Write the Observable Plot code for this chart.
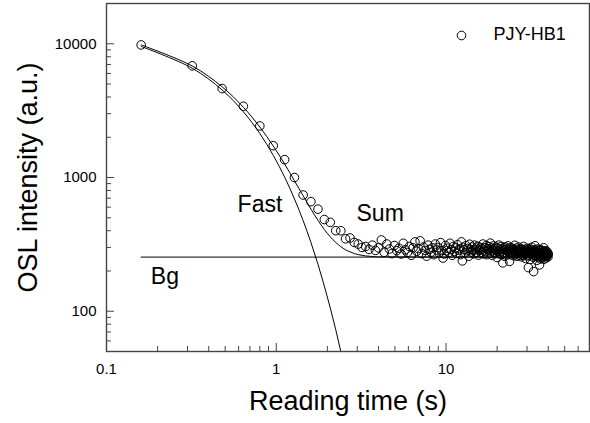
<!DOCTYPE html>
<html>
<head>
<meta charset="utf-8">
<script src="https://cdn.jsdelivr.net/npm/d3@7"></script>
<script src="https://cdn.jsdelivr.net/npm/@observablehq/plot@0.6"></script>
<style>
  html, body { margin: 0; padding: 0; background: #fff; }
  #chart svg { display: block; }
</style>
</head>
<body>
<div id="chart"></div>
<script>
// ---- data ----
const sampleName = "PJY-HB1";
const channelWidth = 0.16; // s, spacing of measurement channels

// OSL counts per channel (channel 1 at 0.16 s ... channel 250 at 40 s)
const oslCounts = [
  9800, 6840, 4620, 3410, 2430, 1730, 1360, 1000, 740, 660,
  580, 485, 462, 400, 400, 348, 353, 327, 318, 300,
  305, 290, 312, 285, 298, 341, 276, 318, 292, 270,
  310, 284, 296, 268, 322, 288, 275, 305, 262, 298,
  330, 281, 294, 336, 270, 302, 285, 258, 312, 290,
  276, 298, 265, 318, 287, 300, 272, 326, 284, 250,
  268, 310, 283, 296, 275, 322, 289, 262, 305, 280,
  298, 271, 314, 286, 293, 265, 330, 238, 301, 288,
  274, 309, 283, 295, 258, 317, 290, 277, 302, 285,
  269, 312, 288, 297, 276, 306, 263, 291, 284, 300,
  275, 292, 318, 268, 287, 299, 279, 310, 265, 294,
  286, 304, 272, 323, 281, 296, 262, 289, 308, 277,
  293, 270, 301, 284, 252, 297, 281, 312, 268, 290,
  279, 305, 266, 292, 230, 271, 299, 258, 287, 302,
  274, 290, 281, 264, 308, 277, 295, 236, 286, 270,
  299, 265, 284, 276, 292, 260, 288, 279, 311, 268,
  283, 272, 296, 258, 287, 275, 302, 263, 281, 290,
  268, 294, 277, 255, 289, 271, 284, 262, 305, 276,
  282, 266, 291, 248, 278, 287, 270, 296, 259, 281,
  212, 289, 262, 279, 284, 244, 291, 268, 276, 301,
  265, 283, 254, 278, 198, 288, 262, 274, 309, 257,
  280, 269, 286, 240, 275, 263, 292, 271, 252, 284,
  267, 222, 258, 289, 246, 273, 262, 281, 255, 270,
  285, 252, 276, 264, 298, 245, 271, 259, 280, 262,
  274, 250, 283, 266, 257, 278, 261, 272, 255, 268
];

// fitted fast component
const fastTimes = [0.16, 0.32, 0.48, 0.64, 0.80, 0.96, 1.12, 1.28, 1.44, 1.60, 1.76, 1.92, 2.08, 2.24, 2.40, 2.56];
const fastFit   = [9550, 6563, 4511, 3100, 2131, 1465, 1007, 692, 476, 327, 225, 154, 106, 73, 50, 34.5];

// fitted sum (fast + background)
const sumTimes = [0.16, 0.32, 0.48, 0.64, 0.80, 0.96, 1.12, 1.28, 1.44, 1.60, 1.76, 1.92, 2.08, 2.24, 2.40, 2.56, 2.72, 2.88, 3.04, 3.20, 3.36, 3.52, 3.68, 3.84, 4.00, 41];
const sumFit   = [9804, 6817, 4765, 3354, 2385, 1719, 1261, 946, 730, 581, 479, 408, 360, 327, 304, 288, 278, 270, 265, 262, 259, 258, 256.5, 255.7, 255.2, 254];

// background level
const bgTimes = [0.16, 41];
const bgLevel = [254, 254];

// component labels
const labelText = ["Fast", "Sum", "Bg"];
const labelX    = [0.592, 2.97, 0.1824];
const labelY    = [631, 533, 182];

// axis ticks
const xMajor = [0.1, 1, 10];
const xMinor = [0.2, 0.3, 0.4, 0.5, 0.6, 0.7, 0.8, 0.9, 2, 3, 4, 5, 6, 7, 8, 9, 20, 30, 40, 50, 60];
const yMajor = [100, 1000, 10000];
const yMinor = [60, 70, 80, 90, 200, 300, 400, 500, 600, 700, 800, 900, 2000, 3000, 4000, 5000, 6000, 7000, 8000, 9000];

const xTitle = "Reading time (s)";
const yTitle = "OSL intensity (a.u.)";

// ---- tables built from the arrays ----
const points = oslCounts.map((v, i) => ({t: +(channelWidth * (i + 1)).toFixed(2), v}));
const fast = fastTimes.map((t, i) => ({t, v: fastFit[i]}));
const sum = sumTimes.map((t, i) => ({t, v: sumFit[i]}));
const bg = bgTimes.map((t, i) => ({t, v: bgLevel[i]}));
const labels = labelText.map((s, i) => ({s, t: labelX[i], v: labelY[i]}));

const font = "'Liberation Sans', Arial, Helvetica, sans-serif";
const axisColor = "#444";

const chart = Plot.plot({
  width: 590,
  height: 423,
  marginLeft: 106,
  marginRight: 1,
  marginTop: 3,
  marginBottom: 72,
  style: {fontFamily: font, background: "#fff", color: "#000", overflow: "visible"},
  x: {type: "log", domain: [0.1, 70], axis: null},
  y: {type: "log", domain: [50, 20000], axis: null},
  marks: [
    // axes with inward ticks
    Plot.axisX(xMajor, {anchor: "bottom", tickSize: -8, tickPadding: 20, stroke: axisColor, fill: "#000", fontSize: 15, tickFormat: d => String(d), label: null}),
    Plot.axisX(xMinor, {anchor: "bottom", tickSize: -5, stroke: axisColor, text: null, label: null}),
    Plot.axisY(yMajor, {anchor: "left", tickSize: -8, tickPadding: 18, stroke: axisColor, fill: "#000", fontSize: 15, tickFormat: d => String(d), label: null}),
    Plot.axisY(yMinor, {anchor: "left", tickSize: -5, stroke: axisColor, text: null, label: null}),
    // fit lines
    Plot.line(bg, {x: "t", y: "v", stroke: "#000", strokeWidth: 1, clip: true}),
    Plot.line(fast, {x: "t", y: "v", stroke: "#000", strokeWidth: 1, curve: "catmull-rom", clip: true}),
    Plot.line(sum, {x: "t", y: "v", stroke: "#000", strokeWidth: 1, curve: "catmull-rom", clip: true}),
    // data
    Plot.dot(points, {x: "t", y: "v", r: 4.3, stroke: "#000", strokeWidth: 1, fill: "none"}),
    // component labels
    Plot.text(labels, {x: "t", y: "v", text: "s", textAnchor: "start", lineAnchor: "middle", fontSize: 23, fill: "#000"}),
    // legend
    Plot.dot([sampleName], {frameAnchor: "top-right", dx: -128, dy: 32, r: 4.3, stroke: "#000", strokeWidth: 1, fill: "none"}),
    Plot.text([sampleName], {frameAnchor: "top-right", dx: -96, dy: 31, textAnchor: "start", lineAnchor: "middle", fontSize: 18, fill: "#000"}),
    // axis titles
    Plot.text([xTitle], {frameAnchor: "bottom", dy: 50, textAnchor: "middle", lineAnchor: "middle", fontSize: 27, fill: "#000"}),
    Plot.text([yTitle], {frameAnchor: "left", dx: -78, rotate: -90, textAnchor: "middle", lineAnchor: "middle", fontSize: 27, fill: "#000"}),
    Plot.frame({stroke: axisColor, strokeWidth: 1.4})
  ]
});
document.getElementById("chart").appendChild(chart);
</script>
</body>
</html>
